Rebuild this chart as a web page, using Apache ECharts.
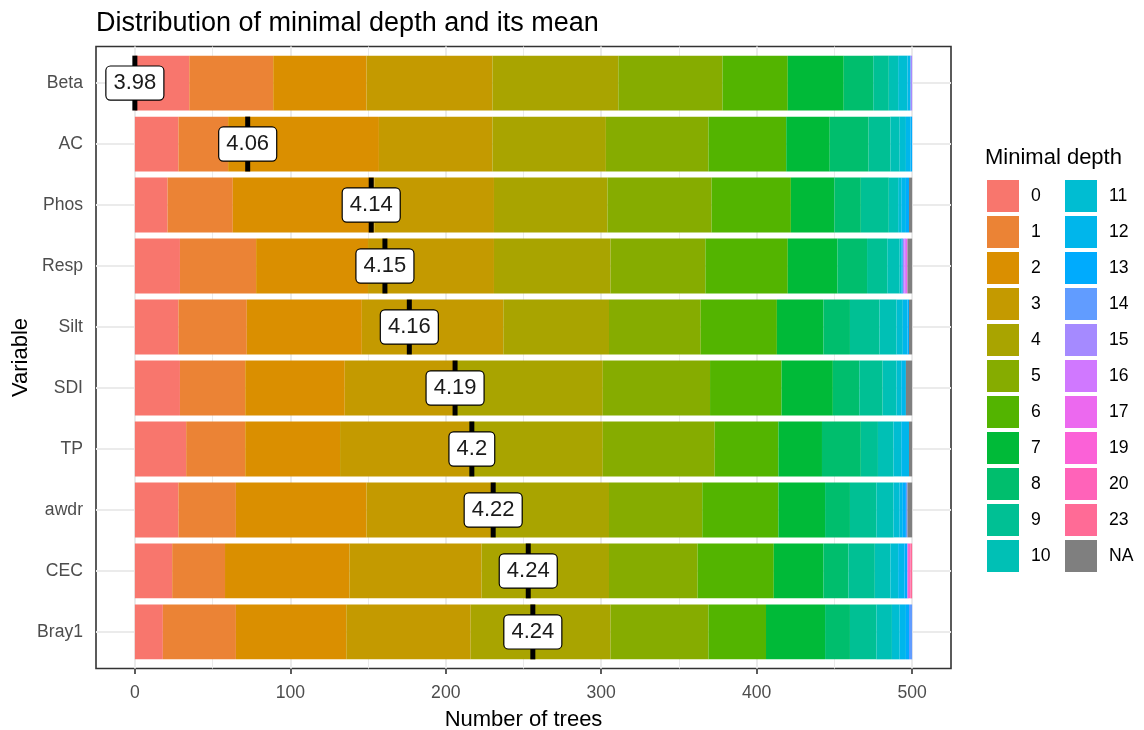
<!DOCTYPE html>
<html>
<head>
<meta charset="utf-8">
<title>Distribution of minimal depth and its mean</title>
<script src="https://cdn.jsdelivr.net/npm/echarts@6/dist/echarts.min.js"></script>
<style>
  html, body { margin: 0; padding: 0; background: #ffffff; }
  #chart { width: 1144px; height: 730px; }
</style>
</head>
<body>
<div id="chart"></div>
<script>
// ---- data -----------------------------------------------------------------
const variables = ['Beta', 'AC', 'Phos', 'Resp', 'Silt', 'SDI', 'TP', 'awdr', 'CEC', 'Bray1'];

const depthLevels = ['0', '1', '2', '3', '4', '5', '6', '7', '8', '9', '10', '11',
                     '12', '13', '14', '15', '16', '17', '19', '20', '23', 'NA'];

// number of trees per minimal depth (same order as depthLevels)
const betaCounts  = [35, 54, 60, 81, 81, 67, 42, 36, 19, 10,  6, 6, 2, 0, 0, 1, 0, 0, 0, 0, 0, 0];
const acCounts    = [28, 32, 97, 73, 73, 66, 50, 28, 25, 14,  6, 4, 3, 1, 0, 0, 0, 0, 0, 0, 0, 0];
const phosCounts  = [21, 42, 91, 77, 73, 67, 51, 28, 17, 18,  6, 2, 3, 2, 0, 0, 0, 0, 0, 0, 0, 2];
const respCounts  = [29, 49, 72, 81, 75, 61, 53, 32, 19, 13,  8, 1, 1, 0, 0, 1, 1, 1, 0, 0, 0, 3];
const siltCounts  = [28, 44, 74, 91, 68, 59, 49, 30, 17, 19, 11, 4, 3, 1, 0, 0, 0, 0, 0, 0, 0, 2];
const sdiCounts   = [29, 42, 64, 71, 95, 69, 46, 33, 17, 15,  9, 3, 3, 0, 0, 0, 0, 0, 0, 0, 0, 4];
const tpCounts    = [33, 38, 61, 83, 86, 72, 41, 28, 25, 11, 10, 5, 5, 0, 0, 0, 0, 0, 0, 0, 0, 2];
const awdrCounts  = [28, 37, 84, 82, 74, 60, 49, 30, 16, 17, 11, 4, 2, 2, 1, 0, 0, 0, 0, 0, 0, 3];
const cecCounts   = [24, 34, 80, 85, 82, 57, 49, 32, 16, 17, 10, 5, 4, 2, 0, 0, 0, 0, 1, 1, 1, 0];
const bray1Counts = [18, 47, 71, 80, 90, 63, 37, 38, 16, 17, 10, 5, 4, 2, 2, 0, 0, 0, 0, 0, 0, 0];

const countsByVariable = [betaCounts, acCounts, phosCounts, respCounts, siltCounts,
                          sdiCounts, tpCounts, awdrCounts, cecCounts, bray1Counts];

// mean minimal depth of each variable
const meanMinimalDepth = [3.982, 4.056, 4.137, 4.146, 4.162, 4.192, 4.203, 4.217, 4.240, 4.243];
// the mean markers are spread between 0 and this many trees
const meanScaleMax = 256;

// ---- colours: ggplot-style hue palette (HCL, c = 100, l = 65) -------------
function hclToHex(h, c, l) {
  const WX = 95.047, WY = 100.0, WZ = 108.883;
  const t = WX + WY + WZ, x = WX / t, y = WY / t;
  const uN = 2 * x / (6 * y - x + 1.5), vN = 4.5 * y / (6 * y - x + 1.5);
  const hr = h * Math.PI / 180;
  const U = c * Math.cos(hr), V = c * Math.sin(hr);
  const Y = WY * (l > 7.999592 ? Math.pow((l + 16) / 116, 3) : l / 903.3);
  const u = U / (13 * l) + uN, v = V / (13 * l) + vN;
  const X = 9 * Y * u / (4 * v);
  const Z = -X / 3 - 5 * Y + 3 * Y / v;
  const g = s => (s > 0.00304 ? 1.055 * Math.pow(s, 1 / 2.4) - 0.055 : 12.92 * s);
  const rgb = [
    g(( 3.240479 * X - 1.537150 * Y - 0.498535 * Z) / WY),
    g((-0.969256 * X + 1.875992 * Y + 0.041556 * Z) / WY),
    g(( 0.055648 * X - 0.204043 * Y + 1.057311 * Z) / WY)
  ];
  return '#' + rgb.map(s => {
    const n = Math.round(Math.min(1, Math.max(0, s)) * 255);
    return (n < 16 ? '0' : '') + n.toString(16);
  }).join('');
}
const nHue = depthLevels.length - 1;
const levelColors = depthLevels.map((lv, i) =>
  lv === 'NA' ? '#7f7f7f' : hclToHex(15 + 360 * i / nHue, 100, 65));

// ---- panel geometry -------------------------------------------------------
const W = 1144, H = 730;
const panel = { left: 96, right: 951, top: 46.5, bottom: 668.5 };
const xPad = 25;               // value padding left/right of 0..500
const bandPad = 0.6;           // category padding top/bottom (in bands)
const nCat = variables.length;
const pxPerTree = (panel.right - panel.left) / (500 + 2 * xPad);
const bandPx = (panel.bottom - panel.top) / (nCat - 1 + 2 * bandPad);
const barGrid = {
  left: panel.left + xPad * pxPerTree,
  right: W - (panel.right - xPad * pxPerTree),
  top: panel.top + (bandPad - 0.5) * bandPx,
  bottom: H - (panel.bottom - (bandPad - 0.5) * bandPx)
};

const FONT = "'Liberation Sans', Arial, sans-serif";
const gridColor = '#ebebeb';

// background grid lines of the panel
const gridLineData = [];
for (let v = 0; v <= 500; v += 50) {
  gridLineData.push({
    xAxis: v,
    lineStyle: { color: gridColor, type: 'solid', width: v % 100 === 0 ? 2 : 1 }
  });
}
for (let k = 1; k <= nCat; k++) {
  gridLineData.push({ yAxis: k, lineStyle: { color: gridColor, type: 'solid', width: 2 } });
}

const barSeries = depthLevels.map((lv, i) => ({
  type: 'bar',
  name: lv,
  xAxisIndex: 1,
  yAxisIndex: 1,
  stack: 'depth',
  barWidth: '90%',
  data: countsByVariable.map(arr => arr[i]),
  itemStyle: { color: levelColors[i] },
  emphasis: { disabled: true },
  z: 3
}));

const minMean = Math.min(...meanMinimalDepth);
const maxMean = Math.max(...meanMinimalDepth);
const meanSeries = {
  type: 'scatter',
  xAxisIndex: 1,
  yAxisIndex: 1,
  symbol: 'rect',
  symbolSize: [5, bandPx * 0.9],
  itemStyle: { color: '#000000', opacity: 1 },
  emphasis: { disabled: true },
  z: 10,
  data: variables.map((v, j) => ({
    value: [(meanMinimalDepth[j] - minMean) / (maxMean - minMean) * meanScaleMax, v],
    mean: Math.round(meanMinimalDepth[j] * 100) / 100
  })),
  label: {
    show: true,
    position: 'inside',
    formatter: p => String(p.data.mean),
    fontFamily: FONT,
    fontSize: 22,
    lineHeight: 24,
    color: '#1a1a1a',
    opacity: 1,
    backgroundColor: '#ffffff',
    borderColor: '#000000',
    borderWidth: 1.2,
    borderRadius: 4,
    padding: [5, 7, 4, 7]
  }
};

const legendCommon = {
  orient: 'vertical',
  top: 180,
  padding: 0,
  itemWidth: 32,
  itemHeight: 32,
  itemGap: 4,
  icon: 'rect',
  selectedMode: false,
  textStyle: { fontFamily: FONT, fontSize: 17.6, color: '#000000', padding: [0, 0, 0, 7] }
};

const tickStyle = { color: '#333333', width: 1.6 };

const option = {
  animation: false,
  backgroundColor: '#ffffff',
  textStyle: { fontFamily: FONT },
  title: [
    {
      text: 'Distribution of minimal depth and its mean',
      left: 96, top: 10, padding: 0,
      textStyle: { fontFamily: FONT, fontSize: 27, fontWeight: 'normal', color: '#000000' }
    },
    {
      text: 'Minimal depth',
      left: 985, top: 147, padding: 0,
      textStyle: { fontFamily: FONT, fontSize: 22, fontWeight: 'normal', color: '#000000' }
    }
  ],
  legend: [
    Object.assign({}, legendCommon, { left: 987, data: depthLevels.slice(0, 11) }),
    Object.assign({}, legendCommon, { left: 1065, data: depthLevels.slice(11) })
  ],
  grid: [
    {
      left: panel.left, top: panel.top,
      width: panel.right - panel.left, height: panel.bottom - panel.top,
      show: true, backgroundColor: '#ffffff', borderColor: '#333333', borderWidth: 1.6,
      containLabel: false, outerBoundsMode: 'none',
      z: 0
    },
    {
      left: barGrid.left, right: barGrid.right, top: barGrid.top, bottom: barGrid.bottom,
      containLabel: false, outerBoundsMode: 'none'
    }
  ],
  xAxis: [
    { type: 'value', gridIndex: 0, min: -xPad, max: 500 + xPad, show: false },
    {
      type: 'value', gridIndex: 1, min: 0, max: 500, interval: 100,
      offset: panel.bottom - (H - barGrid.bottom),
      axisLine: { show: false },
      axisTick: { show: true, length: 5.5, lineStyle: tickStyle },
      axisLabel: { color: '#4d4d4d', fontSize: 17.6, fontFamily: FONT, margin: 16 },
      splitLine: { show: false },
      name: 'Number of trees',
      nameLocation: 'middle',
      nameGap: 40,
      nameTextStyle: { color: '#000000', fontSize: 22, fontFamily: FONT }
    }
  ],
  yAxis: [
    { type: 'value', gridIndex: 0, min: 1 - bandPad, max: nCat + bandPad, inverse: true, show: false },
    {
      type: 'category', gridIndex: 1, data: variables, inverse: true,
      offset: barGrid.left - panel.left,
      axisLine: { show: false },
      axisTick: { show: true, alignWithLabel: true, length: 5.5, lineStyle: tickStyle },
      axisLabel: { color: '#4d4d4d', fontSize: 17.6, fontFamily: FONT, margin: 13 },
      splitLine: { show: false },
      name: 'Variable',
      nameLocation: 'middle',
      nameRotate: 90,
      nameGap: 64,
      nameMoveOverlap: false,
      nameTextStyle: { color: '#000000', fontSize: 22, fontFamily: FONT }
    }
  ],
  series: [
    {
      type: 'line',
      xAxisIndex: 0,
      yAxisIndex: 0,
      data: [],
      silent: true,
      z: 1,
      markLine: {
        silent: true,
        z: 1,
        symbol: ['none', 'none'],
        label: { show: false },
        lineStyle: { type: 'solid', color: gridColor },
        emphasis: { disabled: true },
        animation: false,
        data: gridLineData
      }
    },
    ...barSeries,
    meanSeries
  ]
};

const chart = echarts.init(document.getElementById('chart'), null, { renderer: 'canvas' });
chart.setOption(option);
</script>
</body>
</html>
